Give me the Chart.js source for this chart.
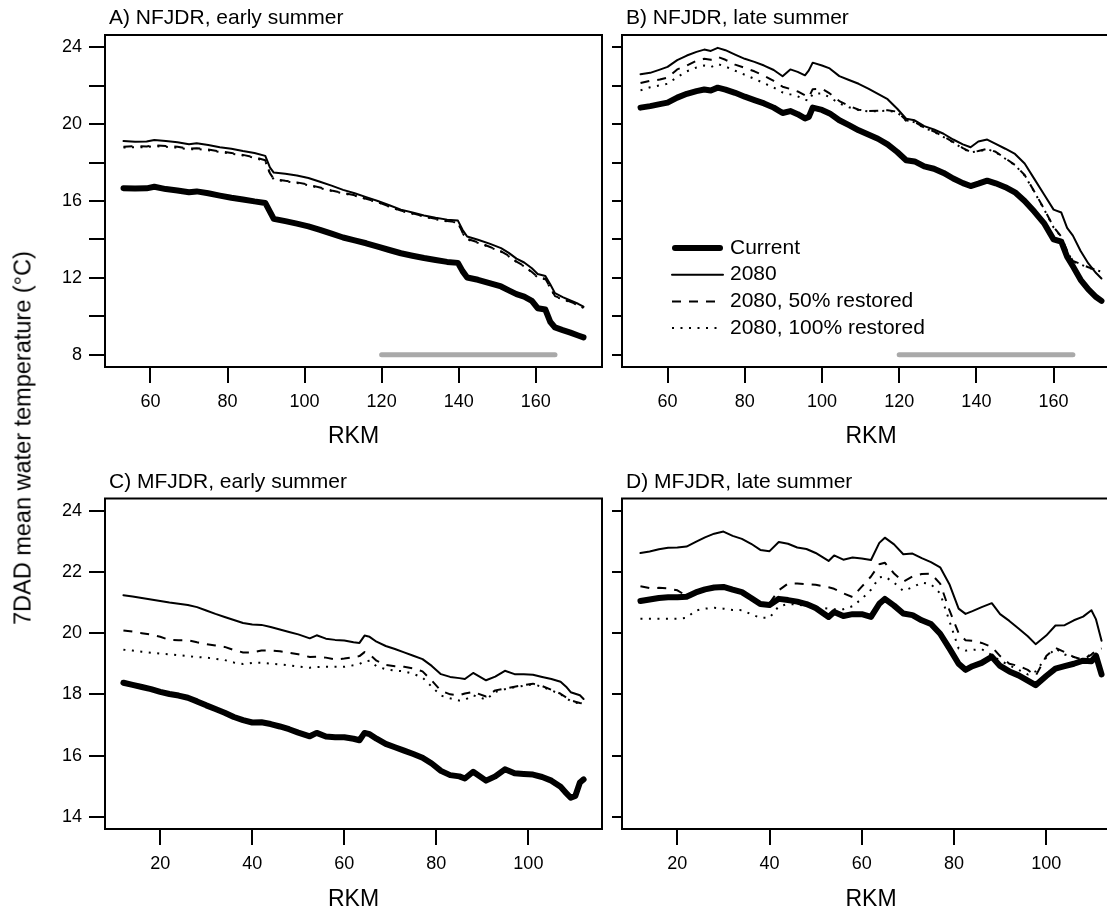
<!DOCTYPE html>
<html>
<head>
<meta charset="utf-8">
<script src="https://cdn.jsdelivr.net/npm/chart.js@4.4.1/dist/chart.umd.min.js"></script>
<style>
  html, body { margin: 0; padding: 0; width: 1107px; height: 911px; overflow: hidden; background: #fff; }
  canvas { position: absolute; }
  #ytitle {
    position: absolute; left: 23px; top: 438px;
    transform: translate(-50%, -50%) rotate(-90deg);
    font: 23.5px "Liberation Sans", Arial, Helvetica, sans-serif;
    color: #000; white-space: nowrap;
  }
</style>
</head>
<body>
<canvas id="chart-a"></canvas>
<canvas id="chart-b"></canvas>
<canvas id="chart-c"></canvas>
<canvas id="chart-d"></canvas>
<div id="ytitle">7DAD mean water temperature (°C)</div>
<script>
const LEGEND_LABELS = ['Current', '2080', '2080, 50% restored', '2080, 100% restored'];

// NFJDR (top row)
const NF_X_TICKS = [60, 80, 100, 120, 140, 160];
const NF_Y_TICKS = [8, 10, 12, 14, 16, 18, 20, 22, 24];
const NF_Y_LABELS = [8, 12, 16, 20, 24];
const NF_X_RANGE = [48.2, 177.2];
const NF_Y_RANGE = [7.36, 24.64];
const SEGMENT_RKM = [120, 165];
const SEGMENT_TEMP = [8, 8];

// A) NFJDR, early summer
const NFE_RKM = [53, 56, 59, 61, 64, 67, 70, 72, 75, 78, 81, 84, 87, 89.8, 91, 92, 95, 98, 101, 104,
  107, 110, 113, 116, 119, 122, 125, 128, 131, 134, 137, 139.8, 141, 142.2, 145, 148, 151, 153, 155, 157,
  159, 160.5, 162.5, 163.8, 165, 167, 169, 171, 172.4];
const NFE_CURRENT = [16.67, 16.65, 16.66, 16.74, 16.62, 16.55, 16.46, 16.5, 16.4, 16.28, 16.17, 16.08, 15.98, 15.9, 15.45, 15.07, 14.95, 14.82, 14.68, 14.5,
  14.3, 14.1, 13.95, 13.8, 13.62, 13.45, 13.28, 13.15, 13.03, 12.93, 12.83, 12.78, 12.35, 12.02, 11.9, 11.73, 11.55, 11.35, 11.15, 11.02,
  10.8, 10.42, 10.35, 9.7, 9.42, 9.28, 9.15, 9.0, 8.9];
const NFE_2080 = [19.12, 19.08, 19.1, 19.18, 19.12, 19.06, 18.95, 19.01, 18.92, 18.8, 18.72, 18.6, 18.5, 18.35, 17.75, 17.48, 17.42, 17.33, 17.2, 17.0,
  16.8, 16.58, 16.4, 16.2, 16.0, 15.78, 15.55, 15.4, 15.25, 15.13, 15.03, 14.98, 14.5, 14.15, 13.98, 13.78, 13.55, 13.3, 13.0, 12.8,
  12.5, 12.2, 12.1, 11.65, 11.2, 11.0, 10.82, 10.65, 10.5];
const NFE_50 = [18.82, 18.85, 18.84, 18.9, 18.86, 18.82, 18.72, 18.75, 18.68, 18.58, 18.5, 18.4, 18.28, 18.12, 17.45, 17.15, 17.05, 16.97, 16.85, 16.7,
  16.55, 16.42, 16.3, 16.12, 15.95, 15.72, 15.5, 15.36, 15.2, 15.07, 14.96, 14.9, 14.35, 14.03, 13.85, 13.62, 13.38, 13.15, 12.85, 12.62,
  12.3, 12.05, 11.95, 11.5, 11.05, 10.9, 10.75, 10.6, 10.45];
const NFE_100 = [18.78, 18.8, 18.8, 18.86, 18.82, 18.78, 18.68, 18.71, 18.64, 18.55, 18.46, 18.37, 18.25, 18.08, 17.42, 17.12, 17.02, 16.94, 16.82, 16.67,
  16.52, 16.4, 16.28, 16.1, 15.93, 15.7, 15.48, 15.34, 15.18, 15.05, 14.94, 14.87, 14.32, 14.0, 13.82, 13.6, 13.36, 13.12, 12.82, 12.6,
  12.28, 12.02, 11.92, 11.47, 11.02, 10.88, 10.73, 10.58, 10.44];

// B) NFJDR, late summer
const NFL_RKM = [53, 55.5, 58, 60, 62.5, 65, 67.5, 69.5, 71.2, 73, 75, 77.5, 80, 82.5, 85, 87.5, 89.8, 91.8, 93.7, 95.6,
  96.6, 97.6, 100, 102, 104.5, 107, 109.5, 112, 114.5, 117, 119.5, 121.8, 124, 126.5, 129, 131.5, 134, 136.5, 138.5, 140.5,
  142.8, 145, 147.5, 150, 152.5, 155, 157.5, 160, 162, 163.5, 165, 167, 169, 171, 172.4];
const NFL_CURRENT = [20.86, 20.94, 21.04, 21.12, 21.38, 21.58, 21.72, 21.8, 21.75, 21.9, 21.8, 21.63, 21.43, 21.25, 21.08, 20.86, 20.58, 20.68, 20.52, 20.3,
  20.38, 20.86, 20.74, 20.56, 20.2, 19.95, 19.68, 19.46, 19.24, 18.95, 18.55, 18.12, 18.06, 17.8, 17.68, 17.46, 17.17, 16.93, 16.78, 16.9,
  17.06, 16.92, 16.72, 16.45, 16.0, 15.45, 14.85, 14.0, 13.88, 13.1, 12.6, 11.9, 11.4, 11.0, 10.8];
const NFL_2080 = [22.6, 22.67, 22.84, 22.98, 23.33, 23.57, 23.76, 23.88, 23.81, 23.97, 23.85, 23.62, 23.4, 23.24, 23.05, 22.82, 22.49, 22.85, 22.72, 22.54,
  22.8, 23.2, 23.05, 22.9, 22.5, 22.3, 22.1, 21.85, 21.57, 21.3, 20.8, 20.28, 20.2, 19.9, 19.72, 19.5, 19.2, 18.95, 18.8, 19.1,
  19.2, 18.97, 18.72, 18.45, 17.95, 17.15, 16.35, 15.55, 15.4, 14.6, 14.2, 13.4, 12.75, 12.25, 11.97];
const NFL_50 = [22.14, 22.26, 22.32, 22.42, 22.85, 23.05, 23.3, 23.4, 23.35, 23.5, 23.35, 23.1, 22.93, 22.75, 22.52, 22.25, 21.95, 21.83, 21.7, 21.5,
  21.4, 21.82, 21.84, 21.6, 21.2, 20.95, 20.75, 20.68, 20.7, 20.72, 20.65, 20.2, 20.12, 19.82, 19.62, 19.35, 19.07, 18.75, 18.55, 18.6,
  18.72, 18.56, 18.22, 17.88, 17.35, 16.5, 15.6, 14.65, 14.15, 13.4, 12.88, 12.72, 12.55, 12.42, 12.35];
const NFL_100 = [21.76, 21.92, 22.02, 22.1, 22.45, 22.75, 22.95, 23.05, 22.97, 23.13, 23.0, 22.78, 22.57, 22.36, 22.13, 21.9, 21.65, 21.55, 21.45, 21.27,
  21.22, 21.58, 21.6, 21.4, 21.08, 20.88, 20.73, 20.66, 20.68, 20.7, 20.62, 20.18, 20.1, 19.8, 19.6, 19.33, 19.05, 18.73, 18.53, 18.58,
  18.7, 18.54, 18.2, 17.86, 17.33, 16.48, 15.58, 14.62, 14.12, 13.38, 12.85, 12.7, 12.53, 12.4, 12.33];

// MFJDR (bottom row)
const MF_X_TICKS = [20, 40, 60, 80, 100];
const MF_Y_TICKS = [14, 16, 18, 20, 22, 24];
const MF_Y_LABELS = [14, 16, 18, 20, 22, 24];
const MF_X_RANGE = [8, 116];
const MF_Y_RANGE = [13.6, 24.4];

// C) MFJDR, early summer
const MFE_RKM = [12, 14, 16, 18, 20, 22, 24, 26, 28, 30, 32, 34, 36, 38, 40, 42, 44, 46, 48, 50,
  52.5, 54, 56, 58, 60, 62, 63.3, 64.4, 65.5, 67, 69, 71, 73, 75, 77, 79, 81, 83, 85, 86.2,
  88, 90.8, 92.8, 94.9, 97, 99, 101, 103, 105, 107, 108.2, 109.2, 110.2, 111.2, 112];
const MFE_CURRENT = [18.38, 18.31, 18.24, 18.17, 18.08, 18.01, 17.96, 17.89, 17.77, 17.64, 17.52, 17.4, 17.26, 17.16, 17.08, 17.09, 17.03, 16.95, 16.86, 16.75,
  16.63, 16.74, 16.62, 16.6, 16.6, 16.55, 16.5, 16.74, 16.7, 16.55, 16.38, 16.27, 16.16, 16.05, 15.93, 15.74, 15.5, 15.36, 15.32, 15.25,
  15.47, 15.18, 15.32, 15.55, 15.42, 15.4, 15.38, 15.3, 15.18, 14.98, 14.78, 14.62, 14.68, 15.12, 15.22];
const MFE_2080 = [21.24, 21.2, 21.15, 21.1, 21.05, 21.0, 20.96, 20.92, 20.85, 20.74, 20.63, 20.53, 20.43, 20.33, 20.28, 20.27, 20.2, 20.12, 20.04, 19.96,
  19.83, 19.93, 19.82, 19.78, 19.76, 19.7, 19.68, 19.92, 19.88, 19.72, 19.58, 19.48, 19.37, 19.26, 19.15, 18.93, 18.66, 18.57, 18.53, 18.5,
  18.7, 18.46, 18.58, 18.77, 18.66, 18.66, 18.64, 18.57, 18.5, 18.41, 18.25, 18.07, 18.02, 17.97, 17.85];
const MFE_50 = [20.09, 20.05, 20.0, 19.95, 19.88, 19.78, 19.77, 19.77, 19.7, 19.64, 19.6, 19.55, 19.45, 19.37, 19.37, 19.43, 19.43, 19.41, 19.36, 19.31,
  19.22, 19.23, 19.2, 19.14, 19.17, 19.21, 19.25, 19.38, 19.3, 19.1, 18.96, 18.92, 18.9, 18.85, 18.75, 18.45, 18.12, 18.0, 17.97, 18.03,
  18.08, 17.93, 18.13, 18.19, 18.25, 18.3, 18.35, 18.27, 18.15, 18.02, 17.9, 17.8, 17.76, 17.72, 17.7];
const MFE_100 = [19.46, 19.43, 19.39, 19.36, 19.33, 19.31, 19.28, 19.25, 19.22, 19.2, 19.16, 19.12, 19.04, 18.99, 19.03, 19.03, 19.0, 18.98, 18.95, 18.91,
  18.87, 18.89, 18.9, 18.9, 18.9, 18.95, 18.99, 19.08, 19.1, 18.92, 18.82, 18.78, 18.75, 18.67, 18.55, 18.25, 17.96, 17.87, 17.8, 17.82,
  17.97, 17.83, 18.08, 18.17, 18.23, 18.28, 18.33, 18.25, 18.13, 18.0, 17.88, 17.78, 17.73, 17.7, 17.67];

// D) MFJDR, late summer
const MFL_RKM = [12, 14, 16, 18, 20, 22, 24, 26, 28, 30, 32, 34, 36, 38, 40, 42, 44, 46, 48, 50,
  52.8, 54, 56, 58, 60, 62, 63.8, 65, 67, 69, 71, 73, 75, 77, 79, 81, 82.5, 84, 86, 88.2,
  90, 92, 94, 96, 97.7, 100, 102, 104, 106, 108, 109.8, 110.8, 112];
const MFL_CURRENT = [21.05, 21.1, 21.15, 21.17, 21.17, 21.19, 21.33, 21.43, 21.49, 21.51, 21.42, 21.34, 21.15, 20.95, 20.92, 21.12, 21.08, 21.03, 20.95, 20.82,
  20.53, 20.69, 20.56, 20.62, 20.62, 20.53, 20.96, 21.12, 20.9, 20.64, 20.59, 20.42, 20.3, 19.98, 19.5, 19.0, 18.8, 18.92, 19.03, 19.23,
  18.93, 18.75, 18.62, 18.45, 18.3, 18.6, 18.84, 18.92, 19.0, 19.1, 19.08, 19.26, 18.65];
const MFL_2080 = [22.62, 22.67, 22.74, 22.79, 22.8, 22.83, 22.98, 23.13, 23.25, 23.32, 23.18, 23.08, 22.92, 22.72, 22.68, 22.98, 22.92, 22.8, 22.75, 22.62,
  22.36, 22.54, 22.4, 22.47, 22.44, 22.39, 22.95, 23.12, 22.9, 22.58, 22.6, 22.45, 22.32, 22.15, 21.6, 20.8, 20.63, 20.72, 20.85, 20.98,
  20.62, 20.4, 20.15, 19.9, 19.64, 19.92, 20.25, 20.26, 20.42, 20.54, 20.75, 20.45, 19.75];
const MFL_50 = [21.53, 21.47, 21.48, 21.46, 21.4, 21.22, 21.33, 21.42, 21.48, 21.5, 21.42, 21.32, 21.14, 20.96, 20.98, 21.4, 21.62, 21.62, 21.6, 21.58,
  21.5, 21.45, 21.3, 21.18, 21.52, 21.85, 22.25, 22.3, 21.95, 21.68, 21.85, 21.93, 21.94, 21.62, 20.75, 20.0, 19.77, 19.75, 19.68, 19.55,
  19.25, 19.0, 18.93, 18.8, 18.6, 19.25, 19.52, 19.38, 19.22, 19.13, 19.3, 19.44, 19.5];
const MFL_100 = [20.47, 20.47, 20.47, 20.47, 20.47, 20.5, 20.74, 20.8, 20.83, 20.8, 20.76, 20.75, 20.62, 20.5, 20.5, 20.88, 20.95, 20.94, 20.88, 20.84,
  20.8, 20.78, 20.78, 20.88, 21.12, 21.42, 21.82, 21.85, 21.65, 21.38, 21.5, 21.65, 21.6, 21.3, 20.4, 19.5, 19.43, 19.45, 19.48, 19.28,
  19.1, 18.95, 18.8, 18.65, 18.75, 19.2, 19.5, 19.3, 19.22, 19.12, 19.33, 19.25, 19.25];

const FONT = '"Liberation Sans", Arial, Helvetica, sans-serif';

const SERIES_STYLES = [
  { width: 6, dash: [], cap: 'round' },
  { width: 2, dash: [], cap: 'round' },
  { width: 2, dash: [9, 8], cap: 'butt' },
  { width: 2, dash: [2, 6.5], cap: 'butt' }
];

// left column carries the y labels, right column only short ticks
const COLS = [
  { left: 0, width: 612, yAxisW: 105, padRight: 10, tickLen: 16 },
  { left: 612, width: 520, yAxisW: 10, padRight: 12, tickLen: 10 }
];
const ROWS = [
  { top: 0, padTop: 35, xAxisH: 93 },
  { top: 463, padTop: 35.5, xAxisH: 94 }
];

const PANELS = [
  { id: 'chart-a', title: 'A) NFJDR, early summer', col: 0, row: 0, rkm: NFE_RKM,
    series: [NFE_CURRENT, NFE_2080, NFE_50, NFE_100], bar: true, key: false },
  { id: 'chart-b', title: 'B) NFJDR, late summer', col: 1, row: 0, rkm: NFL_RKM,
    series: [NFL_CURRENT, NFL_2080, NFL_50, NFL_100], bar: true, key: true },
  { id: 'chart-c', title: 'C) MFJDR, early summer', col: 0, row: 1, rkm: MFE_RKM,
    series: [MFE_CURRENT, MFE_2080, MFE_50, MFE_100], bar: false, key: false },
  { id: 'chart-d', title: 'D) MFJDR, late summer', col: 1, row: 1, rkm: MFL_RKM,
    series: [MFL_CURRENT, MFL_2080, MFL_50, MFL_100], bar: false, key: false }
];

const frameAndTitle = {
  id: 'frameAndTitle',
  afterDatasetsDraw(chart, args, opts) {
    const { ctx, chartArea: a } = chart;
    ctx.save();
    ctx.strokeStyle = '#000';
    ctx.lineWidth = 2;
    ctx.setLineDash([]);
    ctx.strokeRect(a.left, a.top, a.right - a.left, a.bottom - a.top);
    ctx.fillStyle = '#000';
    ctx.font = `21px ${FONT}`;
    ctx.textAlign = 'left';
    ctx.textBaseline = 'middle';
    ctx.fillText(opts.text, a.left + 4, a.top - 16.5);
    ctx.restore();
  }
};

const lineKey = {
  id: 'lineKey',
  afterDatasetsDraw(chart, args, opts) {
    if (!opts.show) return;
    const { ctx, chartArea: a } = chart;
    ctx.save();
    ctx.fillStyle = '#000';
    ctx.font = `21px ${FONT}`;
    ctx.textAlign = 'left';
    ctx.textBaseline = 'middle';
    LEGEND_LABELS.forEach((label, i) => {
      const style = SERIES_STYLES[i];
      const y = a.top + 213 + i * 26.7;
      ctx.beginPath();
      ctx.strokeStyle = '#000';
      ctx.lineWidth = style.width;
      ctx.lineCap = style.cap;
      ctx.setLineDash(style.dash);
      ctx.moveTo(a.left + (i === 0 ? 53 : 50), y);
      ctx.lineTo(a.left + (i === 0 ? 98 : 101), y);
      ctx.stroke();
      ctx.setLineDash([]);
      ctx.fillText(label, a.left + 108, y);
    });
    ctx.restore();
  }
};

function buildDatasets(panel) {
  const datasets = panel.series.map((temps, i) => {
    const style = SERIES_STYLES[i];
    return {
      label: LEGEND_LABELS[i],
      data: panel.rkm.map((x, j) => ({ x, y: temps[j] })),
      borderColor: '#000',
      borderWidth: style.width,
      borderDash: style.dash,
      borderCapStyle: style.cap,
      borderJoinStyle: 'round',
      pointRadius: 0,
      tension: 0,
      fill: false
    };
  });
  if (panel.bar) {
    datasets.push({
      label: 'reach',
      data: SEGMENT_RKM.map((x, j) => ({ x, y: SEGMENT_TEMP[j] })),
      borderColor: '#a9a9a9',
      borderWidth: 5,
      borderCapStyle: 'round',
      pointRadius: 0,
      fill: false
    });
  }
  return datasets;
}

function renderPanel(panel) {
  const col = COLS[panel.col];
  const row = ROWS[panel.row];
  const nf = panel.row === 0;
  const xTicks = nf ? NF_X_TICKS : MF_X_TICKS;
  const yTicks = nf ? NF_Y_TICKS : MF_Y_TICKS;
  const yLabels = nf ? NF_Y_LABELS : MF_Y_LABELS;
  const xRange = nf ? NF_X_RANGE : MF_X_RANGE;
  const yRange = nf ? NF_Y_RANGE : MF_Y_RANGE;
  const showLabels = panel.col === 0;

  const canvas = document.getElementById(panel.id);
  canvas.width = col.width;
  canvas.height = 460;
  canvas.style.left = col.left + 'px';
  canvas.style.top = row.top + 'px';
  canvas.style.width = col.width + 'px';
  canvas.style.height = '460px';

  new Chart(canvas, {
    type: 'line',
    data: { datasets: buildDatasets(panel) },
    options: {
      responsive: false,
      animation: false,
      devicePixelRatio: 1,
      events: [],
      layout: { padding: { left: 0, top: row.padTop, right: col.padRight, bottom: 0 } },
      plugins: {
        legend: { display: false },
        tooltip: { enabled: false },
        frameAndTitle: { text: panel.title },
        lineKey: { show: panel.key }
      },
      scales: {
        x: {
          type: 'linear',
          min: xRange[0],
          max: xRange[1],
          afterBuildTicks: (scale) => { scale.ticks = xTicks.map((v) => ({ value: v })); },
          afterFit: (scale) => { scale.height = row.xAxisH; },
          border: { display: false },
          grid: { drawOnChartArea: false, drawTicks: true, tickLength: 16, color: '#000', lineWidth: 2 },
          ticks: {
            color: '#000',
            font: { family: FONT, size: 18 },
            padding: 8,
            maxRotation: 0,
            autoSkip: false,
            callback: (v) => String(v)
          },
          title: {
            display: true,
            text: 'RKM',
            color: '#000',
            font: { family: FONT, size: 23 },
            padding: { top: 0, bottom: 10 }
          }
        },
        y: {
          type: 'linear',
          min: yRange[0],
          max: yRange[1],
          afterBuildTicks: (scale) => { scale.ticks = yTicks.map((v) => ({ value: v })); },
          afterFit: (scale) => { scale.width = col.yAxisW; },
          border: { display: false },
          grid: { drawOnChartArea: false, drawTicks: true, tickLength: col.tickLen, color: '#000', lineWidth: 2 },
          ticks: {
            color: '#000',
            font: { family: FONT, size: 18 },
            padding: 7,
            autoSkip: false,
            callback: (v) => (showLabels && yLabels.includes(v) ? String(v) : '')
          }
        }
      }
    },
    plugins: [frameAndTitle, lineKey]
  });
}

PANELS.forEach(renderPanel);
</script>
</body>
</html>
